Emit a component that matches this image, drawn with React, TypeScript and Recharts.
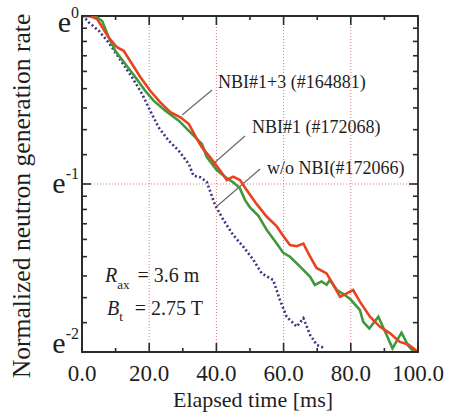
import { LineChart, Line, XAxis, YAxis, ReferenceLine, ReferenceArea, Customized } from 'recharts';

// elapsed time [ms] and ln(normalized neutron generation rate)
const redTime = [0, 2.4, 4.5, 7.9, 10.4, 12.4, 14.9, 17.4, 20.3, 23.3, 26.3, 29.3, 31.8, 34.2, 35.7, 38.1, 41.0, 43.1, 45.0, 47.0, 49.0, 52.0, 55.0, 57.9, 59.9, 61.9, 63.9, 65.9, 67.9, 69.8, 72.8, 74.8, 76.8, 78.8, 80.7, 82.7, 85.7, 88.7, 91.7, 94.6, 97.1, 100];
const redLnRate = [0, 0, -0.018, -0.127, -0.186, -0.207, -0.286, -0.365, -0.445, -0.514, -0.573, -0.603, -0.643, -0.732, -0.782, -0.84, -0.917, -0.976, -0.956, -0.976, -1.036, -1.12, -1.195, -1.25, -1.31, -1.363, -1.37, -1.355, -1.433, -1.5, -1.532, -1.6, -1.671, -1.651, -1.631, -1.7, -1.79, -1.85, -1.889, -1.94, -1.955, -2.0];

const greenTime = [0, 3.9, 6.0, 8.0, 9.9, 12.9, 15.9, 18.8, 21.3, 24.8, 28.8, 32.7, 35.7, 37.1, 40.1, 43.1, 45.0, 47.0, 48.5, 50.0, 52.5, 55.0, 57.9, 59.9, 61.9, 64.9, 67.9, 69.3, 71.3, 72.8, 73.8, 75.8, 77.8, 79.8, 82.7, 83.7, 85.5, 88.2, 90.7, 92.4, 95.1, 97.1, 98.6, 100];
const greenLnRate = [0, 0, -0.03, -0.13, -0.207, -0.286, -0.365, -0.445, -0.504, -0.564, -0.623, -0.702, -0.762, -0.838, -0.917, -0.966, -0.99, -1.026, -1.095, -1.14, -1.19, -1.274, -1.353, -1.41, -1.433, -1.492, -1.552, -1.601, -1.58, -1.6, -1.571, -1.63, -1.655, -1.685, -1.75, -1.82, -1.86, -1.79, -1.9, -1.978, -1.885, -1.963, -1.995, -2.0];

const purpleTime = [0, 0.9, 2.0, 5.0, 7.9, 10.9, 14.9, 17.9, 20.3, 22.8, 25.8, 28.8, 31.8, 33.2, 35.2, 37.1, 39.6, 42.1, 45.0, 48.0, 51.0, 53.5, 55.0, 56.9, 58.9, 60.9, 63.9, 65.9, 67.9, 69.9, 72.3];
const purpleLnRate = [0, -0.012, -0.038, -0.088, -0.157, -0.246, -0.365, -0.464, -0.564, -0.663, -0.742, -0.802, -0.881, -0.951, -0.96, -0.986, -1.125, -1.214, -1.304, -1.373, -1.452, -1.532, -1.55, -1.571, -1.69, -1.79, -1.849, -1.799, -1.899, -1.958, -1.978];

const timeTicks = [0, 10, 20, 30, 40, 50, 60, 70, 80, 90, 100];
const gridTimes = [20, 40, 60, 80];
const rateExponents = [-2, -1, 0];

const toPoints = (t: number[], ln: number[]) => t.map((time, i) => ({ time, rate: Math.exp(ln[i]) }));
const redData = toPoints(redTime, redLnRate);
const greenData = toPoints(greenTime, greenLnRate);
const purpleData = toPoints(purpleTime, purpleLnRate);

// major ticks at e^k, 8 minor ticks evenly spaced (linear) between them
const majorRates = rateExponents.map((k) => Math.exp(k));
const rateTicks: number[] = [];
majorRates.forEach((v, i) => {
  rateTicks.push(v);
  const next = majorRates[i + 1];
  if (next === undefined) return;
  for (let k = 1; k < 9; k++) rateTicks.push(v + (k * (next - v)) / 9);
});

const PLOT = { left: 82, right: 418, top: 16, bottom: 352 };
const FONT = "'Liberation Serif', 'Times New Roman', serif";
const AXIS = '#2a2a2a';
const TEXT = '#1e1e1e';

const TimeTick = (props: any) => {
  const { x, payload } = props;
  const v = payload.value as number;
  const major = v % 20 === 0;
  const len = major ? 9 : 4;
  return (
    <g>
      <line x1={x} x2={x} y1={PLOT.bottom} y2={PLOT.bottom - len} stroke={AXIS} strokeWidth={1.6} />
      <line x1={x} x2={x} y1={PLOT.top} y2={PLOT.top + len} stroke={AXIS} strokeWidth={1.6} />
      {major && (
        <text x={x} y={381} textAnchor="middle" fontSize={23} fontFamily={FONT} fill={TEXT}>
          {v.toFixed(1)}
        </text>
      )}
    </g>
  );
};

const labelShift: Record<number, number> = { 0: 16, [-1]: 9, [-2]: 1 };

const RateTick = (props: any) => {
  const { y, payload } = props;
  const v = payload.value as number;
  const idx = majorRates.findIndex((m) => Math.abs(m - v) < 1e-9);
  const len = idx >= 0 ? 9 : 5;
  const exp = idx >= 0 ? rateExponents[idx] : null;
  return (
    <g>
      <line x1={PLOT.left} x2={PLOT.left + len} y1={y} y2={y} stroke={AXIS} strokeWidth={1.6} />
      <line x1={PLOT.right} x2={PLOT.right - len} y1={y} y2={y} stroke={AXIS} strokeWidth={1.6} />
      {exp !== null && (
        <text x={79} y={y + labelShift[exp]} textAnchor="end" fontSize={30} fontFamily={FONT} fill={TEXT}>
          e
          <tspan fontSize={16} dy={-14}>
            {exp}
          </tspan>
        </text>
      )}
    </g>
  );
};

const Annotations = () => (
  <g fontFamily={FONT} fill={TEXT}>
    <text x={30} y={196} transform="rotate(-90 30 196)" textAnchor="middle" fontSize={25.6}>
      Normalized neutron generation rate
    </text>
    <text x={253} y={407} textAnchor="middle" fontSize={22}>
      Elapsed time [ms]
    </text>
    <text x={218} y={88} fontSize={18}>NBI#1+3 (#164881)</text>
    <text x={252} y={133} fontSize={18}>NBI#1 (#172068)</text>
    <text x={267} y={174} fontSize={18}>w/o NBI(#172066)</text>
    <text x={105} y={282} fontSize={20}>
      <tspan fontStyle="italic">R</tspan>
      <tspan fontSize={13} dy={7}>ax</tspan>
      <tspan dy={-7} dx={3}> = 3.6 m</tspan>
    </text>
    <text x={107} y={315} fontSize={20}>
      <tspan fontStyle="italic">B</tspan>
      <tspan fontSize={13} dy={6}>t</tspan>
      <tspan dy={-6} dx={7}> = 2.75 T</tspan>
    </text>
  </g>
);

const LEADER = '#6a6a6a';

export default function App() {
  return (
    <div style={{ position: 'absolute', left: 0, top: 0, background: '#fff' }}>
      <LineChart width={452} height={414} margin={{ top: 16, right: 34, bottom: 0, left: 0 }}>
        <XAxis
          dataKey="time"
          type="number"
          domain={[0, 100]}
          ticks={timeTicks}
          interval={0}
          height={62}
          tickSize={0}
          tickLine={false}
          tick={<TimeTick />}
          axisLine={{ stroke: AXIS, strokeWidth: 1.8 }}
          allowDataOverflow
        />
        <YAxis
          dataKey="rate"
          type="number"
          scale="log"
          domain={[Math.exp(-2), 1]}
          ticks={rateTicks}
          interval={0}
          width={82}
          tickSize={0}
          tickLine={false}
          tick={<RateTick />}
          axisLine={{ stroke: AXIS, strokeWidth: 1.8 }}
          allowDataOverflow
        />
        {gridTimes.map((t) => (
          <ReferenceLine key={t} x={t} stroke="#e07a7a" strokeWidth={1} strokeDasharray="1 2" />
        ))}
        <ReferenceLine y={Math.exp(-1)} stroke="#e07a7a" strokeWidth={1} strokeDasharray="1 2" />
        <ReferenceLine segment={[{ x: 38.7, y: Math.exp(-0.44) }, { x: 29.8, y: Math.exp(-0.589) }]} stroke={LEADER} strokeWidth={1.2} />
        <ReferenceLine segment={[{ x: 48.5, y: Math.exp(-0.714) }, { x: 39.0, y: Math.exp(-0.881) }]} stroke={LEADER} strokeWidth={1.2} />
        <ReferenceLine segment={[{ x: 53.0, y: Math.exp(-0.911) }, { x: 39.9, y: Math.exp(-1.137) }]} stroke={LEADER} strokeWidth={1.2} />
        <Line data={purpleData} dataKey="rate" stroke="#3c3485" strokeWidth={2.6} strokeDasharray="2 2.4" dot={false} isAnimationActive={false} />
        <Line data={greenData} dataKey="rate" stroke="#3f983c" strokeWidth={2.6} dot={false} isAnimationActive={false} />
        <Line data={redData} dataKey="rate" stroke="#e8421e" strokeWidth={2.6} dot={false} isAnimationActive={false} />
        <ReferenceArea x1={0} x2={100} y1={Math.exp(-2)} y2={1} fill="none" stroke={AXIS} strokeWidth={1.8} ifOverflow="visible" />
        <Customized component={Annotations} />
      </LineChart>
    </div>
  );
}
